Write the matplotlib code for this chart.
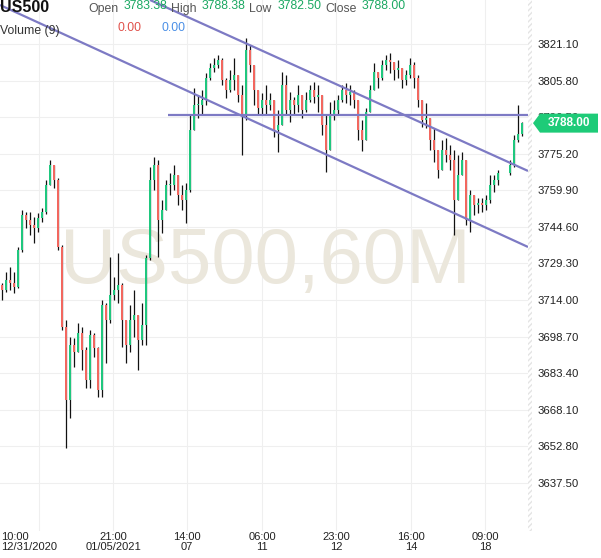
import numpy as np
import matplotlib
matplotlib.use("Agg")
import matplotlib.pyplot as plt
from matplotlib.patches import Polygon, Rectangle
from matplotlib import transforms

plt.rcParams['font.family'] = ['Liberation Sans', 'DejaVu Sans']

# ---------------- data ----------------
symbol = "US500"
timeframe = "60M"
first_open = 3720.3
closes = [
    3718.2, 3722.4, 3721.1, 3719.4, 3734.9, 3749.6, 3747.5, 3745.4, 3744.1, 3748.3,
    3750.8, 3762.1, 3770.5, 3764.2, 3736.2, 3702.7, 3672.2, 3695.2, 3692.3, 3700.2,
    3693.1, 3680.6, 3699.4, 3693.9, 3676.4, 3711.9, 3705.6, 3716.1, 3718.2, 3720.3,
    3705.6, 3695.2, 3705.6, 3707.7, 3697.3, 3703.6, 3731.6, 3764.2, 3770.5, 3747.5,
    3751.7, 3762.1, 3762.1, 3766.3, 3757.9, 3755.8, 3760.0, 3785.1, 3795.6, 3795.6,
    3797.7, 3806.9, 3811.1, 3812.3, 3814.4, 3806.0, 3801.9, 3806.0, 3808.1, 3799.8,
    3791.4, 3818.6, 3812.3, 3801.9, 3794.3, 3797.7, 3795.6, 3797.7, 3785.1, 3787.2,
    3803.9, 3793.5, 3797.7, 3795.6, 3799.8, 3793.5, 3797.7, 3801.9, 3798.9, 3799.8,
    3787.2, 3776.8, 3791.4, 3793.5, 3797.7, 3801.9, 3799.8, 3801.0, 3797.7, 3785.1,
    3780.9, 3792.7, 3801.9, 3809.4, 3806.9, 3812.3, 3814.4, 3813.6, 3810.2, 3811.1,
    3806.0, 3808.1, 3812.3, 3806.9, 3797.7, 3789.3, 3790.1, 3780.9, 3776.8, 3768.4,
    3776.8, 3774.7, 3772.6, 3755.8, 3766.3, 3772.6, 3747.5, 3757.9, 3753.8, 3754.6,
    3753.8, 3755.8, 3762.1, 3764.2, 3767.1, None, None, 3770.5, 3780.9, 3783.38,
    3788.00]
highs = [
    3721.1, 3725.7, 3727.8, 3725.7, 3736.2, 3751.7, 3750.8, 3750.8, 3748.7, 3750.4,
    3752.5, 3764.2, 3772.6, 3768.4, 3765.0, 3737.0, 3705.6, 3698.5, 3698.1, 3704.4,
    3702.7, 3694.4, 3701.5, 3700.2, 3694.4, 3714.0, 3712.8, 3732.0, 3723.6, 3733.7,
    3721.1, 3704.4, 3711.9, 3718.2, 3706.5, 3712.8, 3732.8, 3769.6, 3773.8, 3772.6,
    3755.8, 3764.2, 3767.1, 3770.5, 3765.0, 3762.1, 3763.0, 3791.4, 3802.7, 3799.8,
    3801.9, 3809.0, 3813.1, 3815.2, 3816.5, 3815.2, 3806.9, 3810.2, 3815.2, 3808.1,
    3803.9, 3823.6, 3820.7, 3812.3, 3801.9, 3800.6, 3803.9, 3800.6, 3797.7, 3793.5,
    3809.4, 3808.1, 3801.0, 3798.9, 3803.9, 3799.8, 3801.0, 3803.9, 3805.2, 3803.9,
    3799.8, 3791.4, 3796.8, 3797.7, 3799.8, 3803.9, 3804.8, 3803.9, 3801.9, 3795.6,
    3789.3, 3794.3, 3803.9, 3813.1, 3809.0, 3814.4, 3816.5, 3817.3, 3813.1, 3814.4,
    3811.1, 3810.2, 3815.2, 3813.6, 3808.1, 3797.7, 3796.4, 3789.3, 3786.0, 3776.8,
    3780.9, 3781.8, 3778.8, 3776.8, 3774.7, 3775.9, 3772.6, 3760.0, 3756.7, 3756.7,
    3756.7, 3757.9, 3766.3, 3766.3, 3768.4, None, None, 3772.6, 3783.0, 3795.6,
    3788.38]
lows = [
    3714.0, 3717.4, 3718.2, 3716.9, 3719.0, 3734.1, 3744.1, 3741.2, 3737.9, 3742.5,
    3746.6, 3750.0, 3762.1, 3760.9, 3734.9, 3701.5, 3652.1, 3664.6, 3686.0, 3693.1,
    3684.7, 3677.2, 3677.2, 3690.2, 3673.4, 3673.4, 3687.7, 3704.4, 3714.0, 3712.8,
    3694.4, 3687.7, 3692.3, 3698.5, 3684.7, 3695.2, 3695.2, 3730.7, 3760.0, 3732.0,
    3742.0, 3753.8, 3757.9, 3760.0, 3753.8, 3751.7, 3746.2, 3759.2, 3788.5, 3790.1,
    3791.4, 3795.6, 3806.0, 3809.4, 3811.1, 3803.9, 3798.5, 3801.0, 3801.9, 3796.8,
    3774.7, 3789.3, 3809.4, 3795.6, 3791.4, 3791.4, 3791.4, 3793.5, 3782.2, 3775.9,
    3787.2, 3791.4, 3788.5, 3791.4, 3792.7, 3790.1, 3792.7, 3796.8, 3796.4, 3792.7,
    3783.0, 3767.6, 3776.8, 3789.3, 3791.4, 3796.8, 3796.4, 3795.6, 3794.3, 3780.9,
    3776.3, 3781.8, 3793.5, 3801.9, 3802.7, 3806.0, 3810.2, 3809.0, 3806.0, 3806.9,
    3802.7, 3803.9, 3806.9, 3802.7, 3794.7, 3786.4, 3786.0, 3776.8, 3771.7, 3765.0,
    3770.5, 3771.7, 3768.4, 3741.2, 3762.1, 3766.3, 3745.4, 3742.5, 3749.6, 3750.4,
    3750.8, 3751.7, 3754.6, 3759.2, 3762.1, None, None, 3766.3, 3769.6, 3780.1,
    3782.50]

quote_labels = ["Open", "High", "Low", "Close"]
quote_values = [3783.38, 3788.38, 3782.50, 3788.00]
volume_label = "Volume (9)"
volume_values = [0.00, 0.00]

price_ticks = [3821.10, 3805.80, 3790.50, 3775.20, 3759.90, 3744.60, 3729.30,
               3714.00, 3698.70, 3683.40, 3668.10, 3652.80, 3637.50]
time_tick_index = [9.25, 27.75, 46.25, 65.0, 83.5, 102.25, 120.75]
time_tick_top = ["10:00", "21:00", "14:00", "06:00", "23:00", "16:00", "09:00"]
time_tick_bottom = ["12/31/2020", "01/05/2021", "07", "11", "12", "14", "18"]

upper_channel_x = [37.0, 131.5]
upper_channel_y = [3839.5, 3768.0]
lower_channel_x = [-0.5, 131.5]
lower_channel_y = [3837.4, 3736.2]
level_x = [41.5, 131.5]
level_y = [3791.4, 3791.4]

# ---------------- figure ----------------
W, H = 601, 558
fig = plt.figure(figsize=(W / 100, H / 100), dpi=100)
fig.patch.set_facecolor('white')
ax = fig.add_axes([0, (H - 531) / H, 528 / W, 531 / H])
ax.set_facecolor('white')
ax.set_xlim(-0.5, 131.5)
ax.set_ylim(3617.4, 3839.5)
for s in ax.spines.values():
    s.set_visible(False)

grid_c = '#efefef'
for p in price_ticks:
    ax.axhline(p, color=grid_c, lw=0.8, zorder=0)
for t in time_tick_index:
    ax.axvline(t, color=grid_c, lw=0.8, zorder=0)

# watermark
ax.text(0.502, 0.505, f"{symbol},{timeframe}", transform=ax.transAxes,
        ha='center', va='center', fontsize=56, color='#ebe7dc', zorder=0.5)

# candles
up_c, dn_c = '#1fc77e', '#f2675f'
n = len(closes)
prev_close = first_open
for i in range(n):
    c = closes[i]
    if c is None:
        continue
    o = prev_close
    h = max(highs[i], o, c)
    l = min(lows[i], o, c)
    ax.vlines(i, l, h, color='#111111', lw=0.9, zorder=2)
    col = up_c if c >= o else dn_c
    bottom = min(o, c)
    height = max(abs(c - o), 0.35)
    ax.bar(i, height, bottom=bottom, width=0.42, color=col, edgecolor='none', zorder=3)
    prev_close = c

# drawings
line_c = '#7d7ac4'
ax.plot(upper_channel_x, upper_channel_y, color=line_c, lw=1.6, zorder=4, solid_capstyle='butt')
ax.plot(lower_channel_x, lower_channel_y, color=line_c, lw=1.6, zorder=4, solid_capstyle='butt')
ax.plot(level_x, level_y, color=line_c, lw=1.6, zorder=4, solid_capstyle='butt')

# right price axis
ax.set_xticks([])
ax.yaxis.tick_right()
ax.set_yticks(price_ticks)
ax.set_yticklabels([f"{p:.2f}" for p in price_ticks], fontsize=8.2, color='#222222')
ax.tick_params(axis='y', length=0, pad=7)

# hatched separator strip
fig.patches.append(Rectangle((528 / W, (H - 531) / H), 4 / W, 531 / H,
                             transform=fig.transFigure, facecolor='none',
                             edgecolor='#e4e4e4', hatch='//////', lw=0))

# time labels
bt = transforms.blended_transform_factory(ax.transData, fig.transFigure)
for k, (t, a, b) in enumerate(zip(time_tick_index, time_tick_top, time_tick_bottom)):
    if k == 0:
        ax.text(-0.3, 1 - 532 / H, f"{a}\n{b}", transform=bt, ha='left', va='top',
                fontsize=8, color='#222222', linespacing=0.95, multialignment='left')
    else:
        ax.text(t, 1 - 532 / H, f"{a}\n{b}", transform=bt, ha='center', va='top',
                fontsize=8, color='#222222', linespacing=0.95, multialignment='center')

# header
def fx(px):
    return px / W

def fy(py):
    return 1 - py / H

fig.text(fx(0), fy(8), symbol, fontsize=11.5, fontweight='bold', color='#111111',
         ha='left', va='center')
lab_x = [88, 171, 249, 325]
val_x = [124, 202, 278, 362]
green_txt = '#1aa862'
for lab, val, lx, vx in zip(quote_labels, quote_values, lab_x, val_x):
    fig.text(fx(lx), fy(9), lab, fontsize=8.8, color='#555555', ha='left', va='center')
    fig.text(fx(vx), fy(6), f"{val:.2f}", fontsize=8.8, color=green_txt, ha='left', va='center')
fig.text(fx(0), fy(31), volume_label, fontsize=8.8, color='#333333', ha='left', va='center')
fig.text(fx(118), fy(28), f"{volume_values[0]:.2f}", fontsize=8.8, color='#e0504a',
         ha='left', va='center')
fig.text(fx(162), fy(28), f"{volume_values[1]:.2f}", fontsize=8.8, color='#4a8fe6',
         ha='left', va='center')

# last price label
fig.canvas.draw()
last_close = quote_values[3]
ydisp = ax.transData.transform((0, last_close))[1]
yc = ydisp / (H)  # figure fraction (dpi 100 -> pixels)
hh = 9.5 / H
poly = Polygon([(fx(533), yc), (fx(540), yc + hh), (fx(598), yc + hh),
                (fx(598), yc - hh), (fx(540), yc - hh)], closed=True,
               transform=fig.transFigure, facecolor='#1ecb78', edgecolor='none', zorder=10)
fig.patches.append(poly)
fig.text(fx(569), yc, f"{last_close:.2f}", fontsize=8.5, fontweight='bold', color='white',
         ha='center', va='center', zorder=11)

fig.savefig("out.png", dpi=100, facecolor='white')
